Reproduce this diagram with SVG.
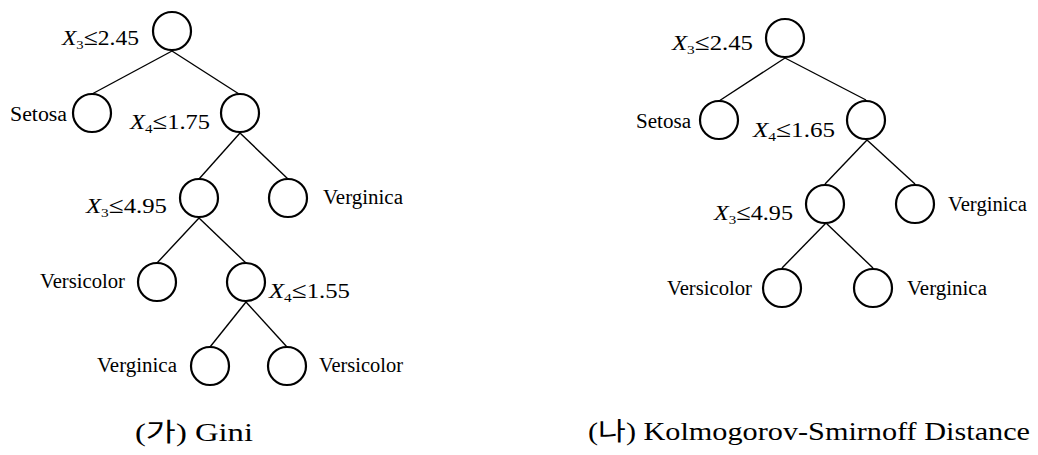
<svg xmlns="http://www.w3.org/2000/svg" width="1038" height="455" viewBox="0 0 1038 455">
<style>
  .node { fill: none; stroke: #000; stroke-width: 2.2; }
  .edge { stroke: #000; stroke-width: 1.4; fill: none; }
  text { font-family: "Liberation Serif", "Noto Sans CJK KR", serif; fill: #000; }
  .lbl { font-size: 20px; }
  .cond { font-size: 21px; }
  .cap { font-size: 25px; }
  .it { font-style: italic; }
  .sub { font-size: 13px; }
  .le { font-size: 23px; }
</style>
<rect width="1038" height="455" fill="#fff"/>

<g id="connectors">
  <!-- left tree -->
  <line class="edge" x1="172" y1="51" x2="92" y2="94"/>
  <line class="edge" x1="172" y1="51" x2="239" y2="94"/>
  <line class="edge" x1="240" y1="133" x2="199" y2="179"/>
  <line class="edge" x1="240" y1="133" x2="288" y2="179"/>
  <line class="edge" x1="199" y1="218" x2="157" y2="263"/>
  <line class="edge" x1="199" y1="218" x2="246" y2="263"/>
  <line class="edge" x1="246" y1="302" x2="210" y2="347"/>
  <line class="edge" x1="246" y1="302" x2="287" y2="347"/>
  <!-- right tree -->
  <line class="edge" x1="785" y1="58" x2="719" y2="101"/>
  <line class="edge" x1="785" y1="58" x2="866" y2="100"/>
  <line class="edge" x1="867" y1="140" x2="825" y2="184"/>
  <line class="edge" x1="867" y1="140" x2="915" y2="184"/>
  <line class="edge" x1="826" y1="223" x2="782" y2="268"/>
  <line class="edge" x1="826" y1="223" x2="873" y2="268"/>
</g>

<!-- Left tree: Gini -->
<g id="L0">
  <circle class="node" cx="172" cy="31" r="19"/>
  <text class="cond" x="62" y="45" textLength="77" lengthAdjust="spacingAndGlyphs"><tspan class="it">X</tspan><tspan class="sub" dy="4">3</tspan><tspan class="le" dy="-4">≤</tspan>2.45</text>
</g>
<g id="L1">
  <circle class="node" cx="92" cy="113" r="19"/>
  <text class="lbl" x="10" y="121" textLength="57" lengthAdjust="spacingAndGlyphs">Setosa</text>
</g>
<g id="L2">
  <circle class="node" cx="240" cy="113" r="19"/>
  <text class="cond" x="130" y="129" textLength="80" lengthAdjust="spacingAndGlyphs"><tspan class="it">X</tspan><tspan class="sub" dy="4">4</tspan><tspan class="le" dy="-4">≤</tspan>1.75</text>
</g>
<g id="L3">
  <circle class="node" cx="199" cy="198" r="19"/>
  <text class="cond" x="86" y="213" textLength="81" lengthAdjust="spacingAndGlyphs"><tspan class="it">X</tspan><tspan class="sub" dy="4">3</tspan><tspan class="le" dy="-4">≤</tspan>4.95</text>
</g>
<g id="L4">
  <circle class="node" cx="288" cy="198" r="19"/>
  <text class="lbl" x="323" y="204" textLength="80" lengthAdjust="spacingAndGlyphs">Verginica</text>
</g>
<g id="L5">
  <circle class="node" cx="157" cy="282" r="19"/>
  <text class="lbl" x="40" y="288" textLength="85" lengthAdjust="spacingAndGlyphs">Versicolor</text>
</g>
<g id="L6">
  <circle class="node" cx="246" cy="282" r="19"/>
  <text class="cond" x="269" y="298" textLength="81" lengthAdjust="spacingAndGlyphs"><tspan class="it">X</tspan><tspan class="sub" dy="4">4</tspan><tspan class="le" dy="-4">≤</tspan>1.55</text>
</g>
<g id="L7">
  <circle class="node" cx="210" cy="366" r="19"/>
  <text class="lbl" x="97" y="372" textLength="80" lengthAdjust="spacingAndGlyphs">Verginica</text>
</g>
<g id="L8">
  <circle class="node" cx="287" cy="366" r="19"/>
  <text class="lbl" x="319" y="372" textLength="84" lengthAdjust="spacingAndGlyphs">Versicolor</text>
</g>
<text class="cap" x="135" y="441" textLength="118" lengthAdjust="spacingAndGlyphs">(가) Gini</text>

<!-- Right tree: Kolmogorov-Smirnoff Distance -->
<g id="R0">
  <circle class="node" cx="785" cy="38" r="19"/>
  <text class="cond" x="672" y="50" textLength="81" lengthAdjust="spacingAndGlyphs"><tspan class="it">X</tspan><tspan class="sub" dy="4">3</tspan><tspan class="le" dy="-4">≤</tspan>2.45</text>
</g>
<g id="R1">
  <circle class="node" cx="719" cy="120" r="19"/>
  <text class="lbl" x="636" y="128" textLength="55" lengthAdjust="spacingAndGlyphs">Setosa</text>
</g>
<g id="R2">
  <circle class="node" cx="866" cy="120" r="19"/>
  <text class="cond" x="753" y="137" textLength="82" lengthAdjust="spacingAndGlyphs"><tspan class="it">X</tspan><tspan class="sub" dy="4">4</tspan><tspan class="le" dy="-4">≤</tspan>1.65</text>
</g>
<g id="R3">
  <circle class="node" cx="825" cy="204" r="19"/>
  <text class="cond" x="714" y="220" textLength="79" lengthAdjust="spacingAndGlyphs"><tspan class="it">X</tspan><tspan class="sub" dy="4">3</tspan><tspan class="le" dy="-4">≤</tspan>4.95</text>
</g>
<g id="R4">
  <circle class="node" cx="915" cy="204" r="19"/>
  <text class="lbl" x="948" y="211" textLength="79" lengthAdjust="spacingAndGlyphs">Verginica</text>
</g>
<g id="R5">
  <circle class="node" cx="782" cy="288" r="19"/>
  <text class="lbl" x="667" y="295" textLength="85" lengthAdjust="spacingAndGlyphs">Versicolor</text>
</g>
<g id="R6">
  <circle class="node" cx="873" cy="288" r="19"/>
  <text class="lbl" x="907" y="295" textLength="80" lengthAdjust="spacingAndGlyphs">Verginica</text>
</g>
<text class="cap" x="588" y="440" textLength="442" lengthAdjust="spacingAndGlyphs">(나) Kolmogorov-Smirnoff Distance</text>
</svg>
